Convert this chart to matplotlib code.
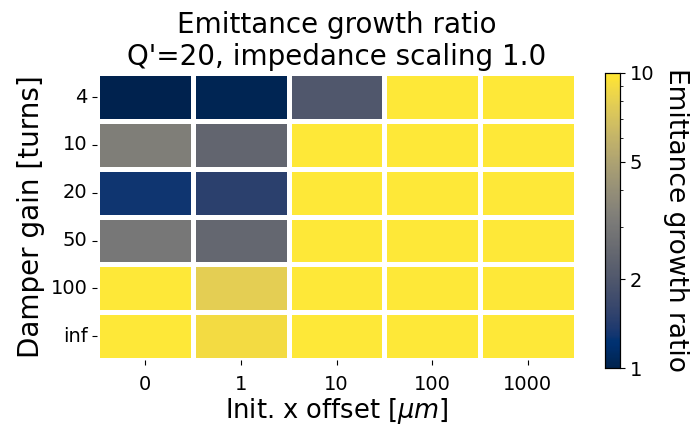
import matplotlib
matplotlib.use("Agg")
import matplotlib.pyplot as plt
import numpy as np
import seaborn as sns
from matplotlib.colors import LogNorm
from matplotlib.ticker import NullFormatter

# damper gain rows / initial offset columns
gains = ["4", "10", "20", "50", "100", "inf"]
offsets = ["0", "1", "10", "100", "1000"]

# emittance growth ratio, one list per damper gain
g4   = [1.00, 1.03, 2.00, 15.0, 15.0]
g10  = [3.25, 2.40, 15.0, 15.0, 15.0]
g20  = [1.28, 1.48, 15.0, 15.0, 15.0]
g50  = [3.00, 2.45, 15.0, 15.0, 15.0]
g100 = [15.0, 7.90, 15.0, 15.0, 15.0]
ginf = [15.0, 8.90, 15.0, 15.0, 15.0]

data = np.array([g4, g10, g20, g50, g100, ginf])

fig = plt.figure(figsize=(6.91, 4.26), dpi=100)
ax = fig.add_axes([0.141, 0.155, 0.692, 0.673])
cax = fig.add_axes([0.876, 0.136, 0.021, 0.693])

sns.heatmap(data, ax=ax, cbar_ax=cax, cmap="cividis",
            norm=LogNorm(vmin=1, vmax=10), linewidths=2.5, linecolor="white",
            xticklabels=offsets, yticklabels=gains)

ax.set_title("Emittance growth ratio\nQ'=20, impedance scaling 1.0", fontsize=20)
ax.set_xlabel(r"Init. x offset [$\mu m$]", fontsize=18.5, labelpad=2)
ax.set_ylabel("Damper gain [turns]", fontsize=20)
ax.tick_params(axis="both", labelsize=14)
ax.tick_params(axis="y", rotation=0)
ax.tick_params(axis="x", rotation=0, pad=7)

cax.set_yticks([1, 2, 5, 10])
cax.set_yticklabels(["1", "2", "5", "10"])
cax.yaxis.set_minor_formatter(NullFormatter())
cax.tick_params(labelsize=14)
for s in cax.spines.values():
    s.set_visible(True)
    s.set_linewidth(0.8)
cax.set_ylabel("Emittance growth ratio", fontsize=19, rotation=270,
               va="bottom", labelpad=6)

fig.savefig("out.png", dpi=100)
